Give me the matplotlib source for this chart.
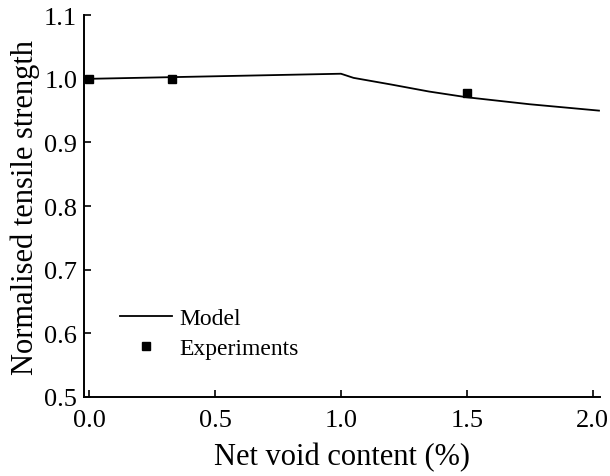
import numpy as np
import matplotlib
matplotlib.use('agg')
import matplotlib.pyplot as plt

plt.rcParams['font.family'] = ['Liberation Serif', 'DejaVu Serif']
plt.rcParams['mathtext.fontset'] = 'stix'

# model curve
model_x = [0.0, 0.25, 0.5, 0.75, 1.0, 1.05, 1.2, 1.35, 1.5, 1.75, 2.025]
model_y = [1.000, 1.002, 1.004, 1.006, 1.008, 1.0015, 0.991, 0.980, 0.971, 0.960, 0.950]

# experimental points
exp_x = [0.0, 0.33, 1.5]
exp_y = [1.000, 1.000, 0.977]

fig = plt.figure(figsize=(6.1, 4.77), dpi=100)
ax = fig.add_axes([0.138, 0.166, 0.846, 0.800])

ax.plot(model_x, model_y, color='black', linewidth=1.3, label='Model')
ax.plot(exp_x, exp_y, linestyle='none', marker='s', markersize=6,
        color='black', label='Experiments', clip_on=False, zorder=3)

ax.set_xlim(-0.02, 2.03)
ax.set_ylim(0.5, 1.1)
ax.set_xticks([0.0, 0.5, 1.0, 1.5, 2.0])
ax.set_yticks([0.5, 0.6, 0.7, 0.8, 0.9, 1.0, 1.1])
ax.xaxis.set_major_formatter(matplotlib.ticker.FormatStrFormatter('%.1f'))
ax.yaxis.set_major_formatter(matplotlib.ticker.FormatStrFormatter('%.1f'))

ax.spines['top'].set_visible(False)
ax.spines['right'].set_visible(False)
for s in ['left', 'bottom']:
    ax.spines[s].set_linewidth(1.4)
ax.tick_params(direction='in', length=5, width=1.2, labelsize=19, pad=5)
ax.tick_params(axis='x', pad=9)

ax.set_xlabel('Net void content (%)', fontsize=22, labelpad=8)
ax.set_ylabel('Normalised tensile strength', fontsize=22, labelpad=3)

ax.legend(loc='lower left', bbox_to_anchor=(0.028, 0.043), frameon=False,
          fontsize=17, handlelength=2.2, handletextpad=0.3, labelspacing=0.37,
          borderaxespad=0.5)

fig.savefig('out.png')
